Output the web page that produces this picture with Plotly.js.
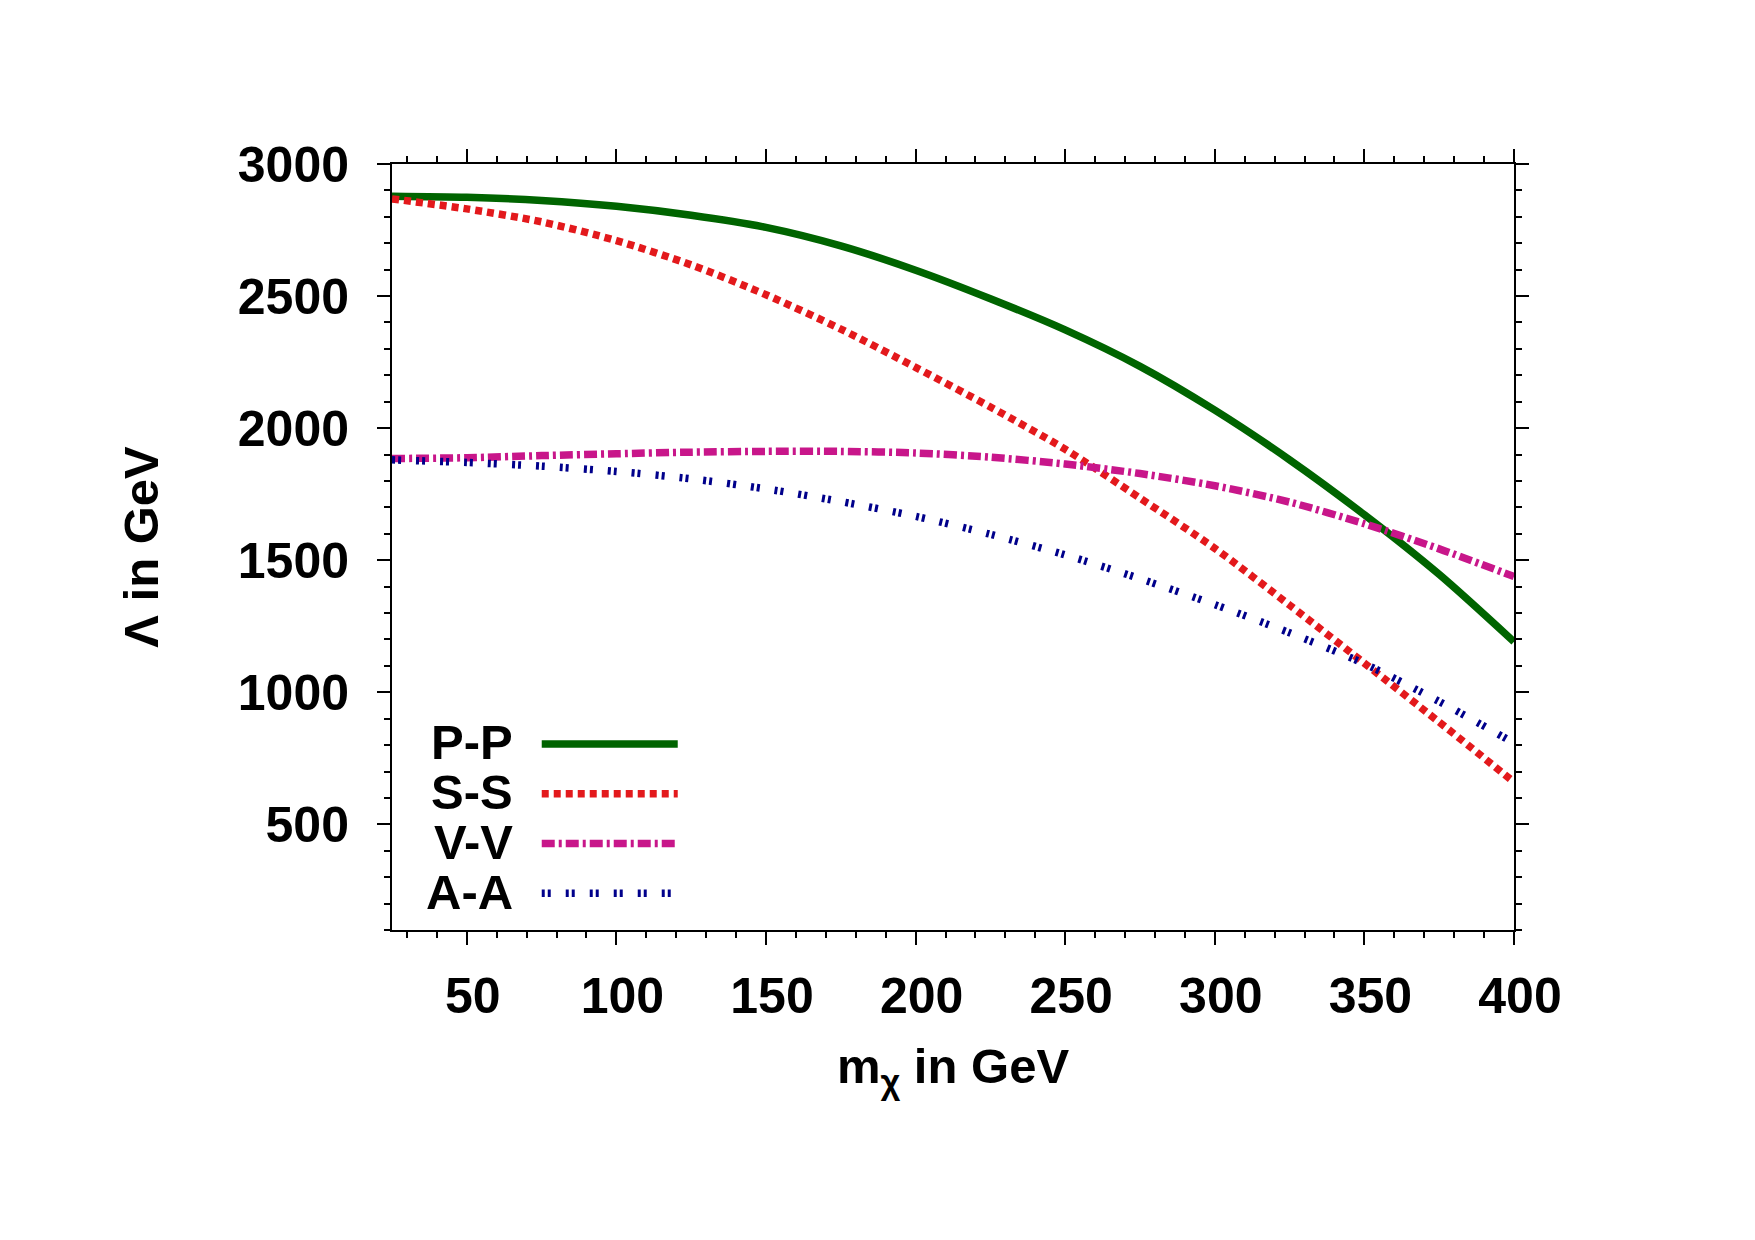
<!DOCTYPE html>
<html>
<head>
<meta charset="utf-8">
<script src="https://cdn.plot.ly/plotly-3.0.1.min.js"></script>
<style>html,body{margin:0;padding:0;background:#fff;}</style>
</head>
<body>
<div id="chart" style="width:1755px;height:1240px;"></div>
<script>
// ---- data ----
const mChi = [25, 50, 75, 100, 125, 150, 175, 200, 225, 250, 275, 300, 325, 350, 375, 400];
const lambdaPP = [2878, 2874, 2862, 2840, 2806, 2760, 2690, 2598, 2490, 2372, 2234, 2068, 1880, 1672, 1446, 1191];
const lambdaSS = [2868, 2830, 2781, 2710, 2618, 2505, 2375, 2230, 2080, 1920, 1735, 1545, 1330, 1110, 887, 660];
const lambdaVV = [1885, 1888, 1896, 1903, 1909, 1912, 1912, 1906, 1890, 1864, 1828, 1782, 1720, 1638, 1543, 1438];
const lambdaAA = [1880, 1870, 1856, 1836, 1808, 1770, 1722, 1666, 1598, 1520, 1430, 1332, 1225, 1108, 965, 808];
const seriesNames = ['P-P', 'S-S', 'V-V', 'A-A'];
const xTickVals = [50, 100, 150, 200, 250, 300, 350, 400];
const yTickVals = [500, 1000, 1500, 2000, 2500, 3000];

// ---- styles ----
const seriesY = [lambdaPP, lambdaSS, lambdaVV, lambdaAA];
const colors = ['#006400', '#e3191c', '#c8168a', '#00008b'];
const dashes = ['solid', '7px,5px', '13px,4px,3px,4px', '3px,3px,3px,15px'];
const FONT = 'Liberation Sans, Arial, Helvetica, sans-serif';

const traces = seriesY.map((ys, i) => ({
  x: mChi,
  y: ys,
  type: 'scatter',
  mode: 'lines',
  name: '',
  line: {color: colors[i], width: 7.5, dash: dashes[i], shape: 'spline', smoothing: 0.8},
  hoverinfo: 'skip'
}));

// legend labels as text to the left of the legend samples (gnuplot style)
const legendRowY = [0.2454, 0.1802, 0.1149, 0.0496];
const annotations = seriesNames.map((n, i) => ({
  text: n,
  xref: 'paper', yref: 'paper',
  x: 0.1095, y: legendRowY[i],
  xanchor: 'right', yanchor: 'middle',
  showarrow: false,
  font: {family: FONT, size: 49, color: '#000', weight: 'bold'}
}));

const axisCommon = {
  showline: true, linewidth: 2, linecolor: '#000',
  mirror: 'ticks', ticks: 'outside', ticklen: 13, tickwidth: 2, tickcolor: '#000',
  showgrid: false, zeroline: false,
  tickfont: {family: FONT, size: 50, color: '#000', weight: 'bold'}
};

const layout = {
  width: 1755, height: 1240,
  paper_bgcolor: '#fff', plot_bgcolor: '#fff',
  margin: {l: 392, r: 241, t: 164, b: 310, pad: 0},
  showlegend: true,
  legend: {
    x: 0.129, y: 0.282, xanchor: 'left', yanchor: 'top',
    xref: 'paper', yref: 'paper',
    bgcolor: 'rgba(0,0,0,0)', borderwidth: 0,
    itemwidth: 136,
    font: {family: FONT, size: 36, color: '#000'}
  },
  xaxis: Object.assign({}, axisCommon, {
    range: [25, 400],
    tickmode: 'array', tickvals: xTickVals, ticktext: xTickVals.map(String),
    ticklabelstandoff: 8, ticklabelshift: 6,
    minor: {dtick: 10, tick0: 0, ticks: 'outside', ticklen: 6, tickwidth: 2, tickcolor: '#000', showgrid: false},
    title: {text: 'm<sub>χ</sub> in GeV', standoff: 26,
      font: {family: FONT, size: 49, color: '#000', weight: 'bold'}}
  }),
  yaxis: Object.assign({}, axisCommon, {
    range: [100, 3000],
    tickmode: 'array', tickvals: yTickVals, ticktext: yTickVals.map(String),
    ticklabelstandoff: 18,
    minor: {dtick: 100, tick0: 0, ticks: 'outside', ticklen: 6, tickwidth: 2, tickcolor: '#000', showgrid: false},
    title: {text: 'Λ in GeV', standoff: 64,
      font: {family: FONT, size: 49, color: '#000', weight: 'bold'}}
  }),
  annotations: annotations
};

Plotly.newPlot('chart', traces, layout, {staticPlot: true, displayModeBar: false});
</script>
</body>
</html>
